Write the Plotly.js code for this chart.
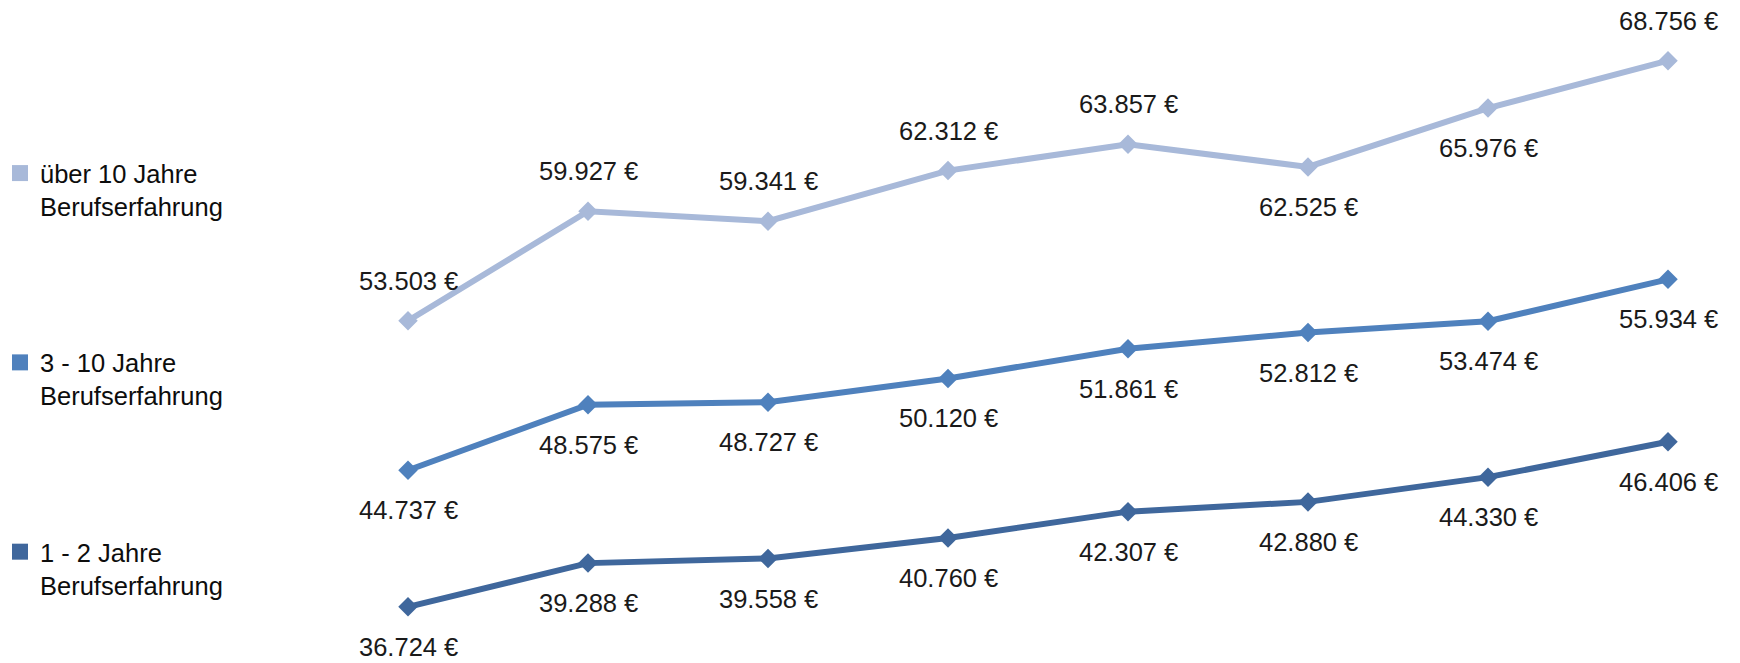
<!DOCTYPE html>
<html>
<head>
<meta charset="utf-8">
<script src="https://cdn.plot.ly/plotly-3.0.1.min.js"></script>
<style>
  html, body { margin: 0; padding: 0; background: #ffffff; }
  #chart { width: 1740px; height: 663px; }
</style>
</head>
<body>
<div id="chart"></div>
<script>
// Data
const categories = ["P1", "P2", "P3", "P4", "P5", "P6", "P7", "P8"];
const seriesNames = ["über 10 Jahre<br>Berufserfahrung", "3 - 10 Jahre<br>Berufserfahrung", "1 - 2 Jahre<br>Berufserfahrung"];
const ueber10 = [53503, 59927, 59341, 62312, 63857, 62525, 65976, 68756];
const jahre3bis10 = [44737, 48575, 48727, 50120, 51861, 52812, 53474, 55934];
const jahre1bis2 = [36724, 39288, 39558, 40760, 42307, 42880, 44330, 46406];
// label placement: +1 above, -1 below
const ueber10Pos = [1, 1, 1, 1, 1, -1, -1, 1];
const jahre3bis10Pos = [-1, -1, -1, -1, -1, -1, -1, -1];
const jahre1bis2Pos = [-1, -1, -1, -1, -1, -1, -1, -1];

const colors = ["#a8b9d9", "#4f81bd", "#3f679c"];
const series = [ueber10, jahre3bis10, jahre1bis2];
const positions = [ueber10Pos, jahre3bis10Pos, jahre1bis2Pos];

const labelFont = { family: "Liberation Sans, Arial, sans-serif", size: 25.5, color: "#1a1a1a" };

function fmt(v) {
  return v.toString().replace(/\B(?=(\d{3})+(?!\d))/g, ".") + " €";
}

const traces = [];
series.forEach((vals, i) => {
  traces.push({
    type: "scatter",
    mode: "lines+markers",
    x: categories,
    y: vals,
    line: { color: colors[i], width: 6 },
    marker: { symbol: "diamond", size: 15, color: colors[i] },
    showlegend: false,
    hoverinfo: "skip",
    cliponaxis: false
  });
});
// legend-only entries (square swatches)
series.forEach((vals, i) => {
  traces.push({
    type: "scatter",
    mode: "markers",
    x: [null],
    y: [null],
    name: seriesNames[i],
    legendgroup: "g" + i,
    marker: { symbol: "square", size: 16, color: colors[i] },
    showlegend: true,
    hoverinfo: "skip"
  });
});

const annotations = [];
series.forEach((vals, i) => {
  vals.forEach((v, j) => {
    annotations.push({
      x: categories[j],
      y: v,
      xref: "x",
      yref: "y",
      text: fmt(v),
      showarrow: false,
      xanchor: "center",
      yanchor: "middle",
      yshift: 40 * positions[i][j],
      font: labelFont
    });
  });
});

const layout = {
  width: 1740,
  height: 663,
  margin: { l: 318, r: 0, t: 0, b: 0, pad: 0 },
  paper_bgcolor: "#ffffff",
  plot_bgcolor: "#ffffff",
  xaxis: {
    type: "category",
    range: [-0.5, 7.4],
    visible: false,
    showgrid: false,
    zeroline: false,
    fixedrange: true
  },
  yaxis: {
    range: [33430, 72316],
    visible: false,
    showgrid: false,
    zeroline: false,
    fixedrange: true
  },
  showlegend: true,
  legend: {
    xref: "container",
    yref: "container",
    x: 0,
    y: 1 - 150 / 663,
    xanchor: "left",
    yanchor: "top",
    traceorder: "grouped",
    tracegroupgap: 120,
    valign: "top",
    maxheight: 640,
    bgcolor: "rgba(0,0,0,0)",
    borderwidth: 0,
    font: { family: "Liberation Sans, Arial, sans-serif", size: 25.5, color: "#0d0d0d" }
  },
  annotations: annotations
};

Plotly.newPlot("chart", traces, layout, { displayModeBar: false, staticPlot: true });
</script>
</body>
</html>
